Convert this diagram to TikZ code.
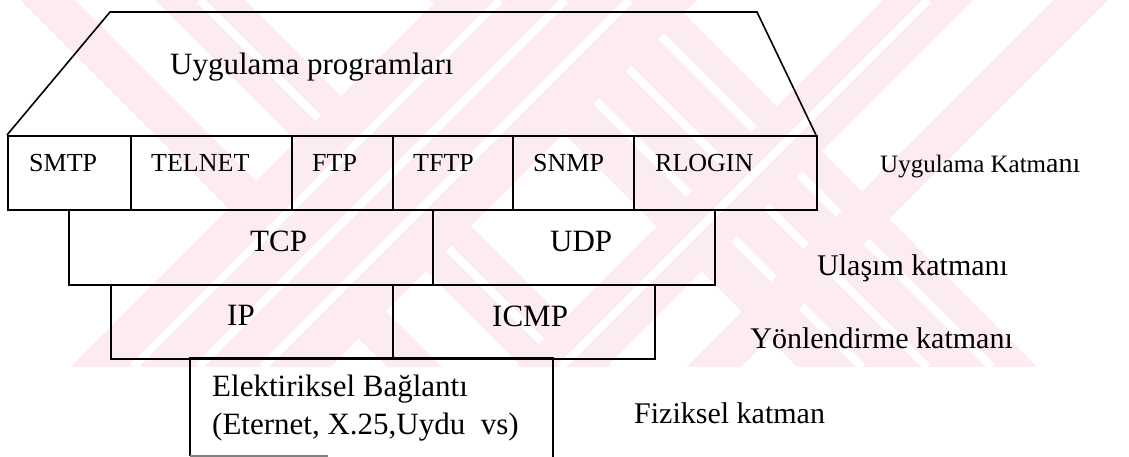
\documentclass[tikz,border=0pt]{standalone}
\usepackage{fontspec}
\setmainfont{Liberation Serif}
\definecolor{wmpink}{RGB}{253,236,239}
\tikzset{
  box/.style={draw=black, line width=1.6pt, rectangle, inner sep=0pt, anchor=north west},
  lbl/.style={inner sep=0pt, anchor=base west, font=\fontsize{26}{30}\selectfont},
  big/.style={inner sep=0pt, anchor=base west, font=\fontsize{31}{36}\selectfont},
  side/.style={inner sep=0pt, anchor=base west, font=\fontsize{30}{34}\selectfont},
  edge/.style={draw=black, line width=1.6pt, line join=miter},
  gap/.style={white, line width=8pt}
}
\begin{document}
\begin{tikzpicture}[x=1pt,y=-1pt]
\useasboundingbox (0,0) rectangle (1129,457);

% pale hatched watermark: a V over an inverted V
\begin{scope}
  \clip (0,0) rectangle (1129,367);
  % falling bands (x - y constant)
  \foreach \a/\b in {20/75, 155/245, 430/670}{
    \begin{scope}
      \clip (\a,0) -- (\b,0) -- ({\b+367},367) -- ({\a+367},367) -- cycle;
      \fill[wmpink] (0,0) rectangle (1129,367);
      \foreach \c in {200,495,560,625}{
        \draw[gap] (\c,0) -- ({\c+367},367);
      }
    \end{scope}
  }
  % rising bands (x + y constant)
  \foreach \a/\b in {437/697, 883/973, 1053/1108}{
    \begin{scope}
      \clip (\a,0) -- (\b,0) -- ({\b-367},367) -- ({\a-367},367) -- cycle;
      \fill[wmpink] (0,0) rectangle (1129,367);
      \foreach \c in {500,565,630,928}{
        \draw[gap] (\c,0) -- ({\c-367},367);
      }
    \end{scope}
  }
\end{scope}

% application programs roof
\coordinate (rBL) at (7,135);
\coordinate (rTL) at (110,12);
\coordinate (rTR) at (757,12);
\coordinate (rBR) at (816,135);
\draw[edge] (rBL) -- (rTL) -- (rTR) -- (rBR);
\node[big] (prog) at (170,75) {Uygulama programları};

% application protocols
\node[box, minimum width=123pt, minimum height=74pt] (smtp)   at (7,135)   {};
\node[box, minimum width=161pt, minimum height=74pt] (telnet) at (130,135) {};
\node[box, minimum width=101pt, minimum height=74pt] (ftp)    at (291,135) {};
\node[box, minimum width=120pt, minimum height=74pt] (tftp)   at (392,135) {};
\node[box, minimum width=121pt, minimum height=74pt] (snmp)   at (512,135) {};
\node[box, minimum width=183pt, minimum height=74pt] (rlogin) at (633,135) {};
\node[lbl] (tsmtp)   at (29,172)  {SMTP};
\node[lbl] (ttelnet) at (151,172) {TELNET};
\node[lbl] (tftpx)   at (312,172) {FTP};
\node[lbl] (ttftp)   at (413,172) {TFTP};
\node[lbl] (tsnmp)   at (533,172) {SNMP};
\node[lbl] (trlogin) at (655,172) {RLOGIN};

% transport
\node[box, minimum width=364pt, minimum height=75pt] (tcp) at (68,209)  {};
\node[box, minimum width=282pt, minimum height=75pt] (udp) at (432,209) {};
\node[big] (ttcp) at (250,251) {TCP};
\node[big] (tudp) at (550,251) {UDP};

% routing
\node[box, minimum width=282pt, minimum height=74pt] (ip)   at (110,284) {};
\node[box, minimum width=262pt, minimum height=74pt] (icmp) at (392,284) {};
\node[big] (tip)   at (227,325) {IP};
\node[big] (ticmp) at (492,326) {ICMP};

% physical link
\coordinate (pBL) at (190,456);
\coordinate (pTL) at (190,358);
\coordinate (pTR) at (553,358);
\coordinate (pBR) at (553,457);
\coordinate (pBM) at (328,456);
\draw[edge] (pBL) -- (pTL) -- (pTR) -- (pBR);
\draw[gray, line width=1.2pt] (pBL) -- (pBM);
\node[big] (phys1) at (212,396) {Elektiriksel Bağlantı};
\node[big] (phys2) at (212,434) {(Eternet, X.25,Uydu\ \ vs)};

% layer names
\node[inner sep=0pt, anchor=base west] (lapp) at (880,173)
  {\fontsize{25}{30}\selectfont Uygulama Katm\fontsize{28}{30}\selectfont anı};
\node[side] (ltr)  at (817,275) {Ulaşım katmanı};
\node[side, anchor=base east] (lnet) at (1013,348) {Yönlendirme katmanı};
\node[side] (lphy) at (634,423) {Fiziksel katman};
\end{tikzpicture}
\end{document}
